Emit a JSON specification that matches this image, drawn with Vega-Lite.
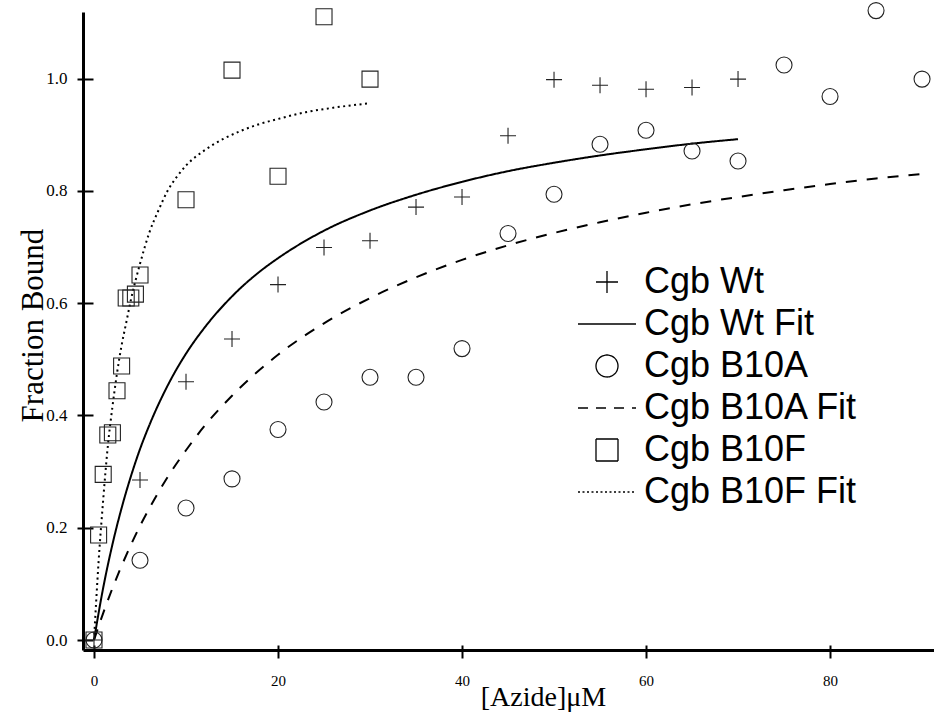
{
  "$schema": "https://vega.github.io/schema/vega-lite/v6.json",
  "autosize": "none",
  "width": 851,
  "height": 638,
  "padding": {"left": 83, "top": 12, "right": 0, "bottom": 67},
  "background": "white",
  "config": {
    "view": {"stroke": null},
    "axis": {"grid": false},
    "legend": {
      "labelFont": "Liberation Sans",
      "labelFontSize": 36,
      "labelColor": "black",
      "symbolStrokeColor": "black",
      "symbolStrokeWidth": 1.3,
      "symbolSize": 484,
      "labelOffset": 19,
      "rowPadding": 6,
      "padding": 0,
      "labelLimit": 400
    }
  },
  "datasets": {
    "pts": [
      {"series": "Cgb Wt", "x": 0, "y": 0},
      {"series": "Cgb Wt", "x": 5, "y": 0.285},
      {"series": "Cgb Wt", "x": 10, "y": 0.46},
      {"series": "Cgb Wt", "x": 15, "y": 0.536},
      {"series": "Cgb Wt", "x": 20, "y": 0.633},
      {"series": "Cgb Wt", "x": 25, "y": 0.699},
      {"series": "Cgb Wt", "x": 30, "y": 0.711},
      {"series": "Cgb Wt", "x": 35, "y": 0.771},
      {"series": "Cgb Wt", "x": 40, "y": 0.789},
      {"series": "Cgb Wt", "x": 45, "y": 0.898},
      {"series": "Cgb Wt", "x": 50, "y": 0.998},
      {"series": "Cgb Wt", "x": 55, "y": 0.988},
      {"series": "Cgb Wt", "x": 60, "y": 0.981},
      {"series": "Cgb Wt", "x": 65, "y": 0.984},
      {"series": "Cgb Wt", "x": 70, "y": 0.999},
      {"series": "Cgb B10A", "x": 0, "y": 0},
      {"series": "Cgb B10A", "x": 5, "y": 0.142},
      {"series": "Cgb B10A", "x": 10, "y": 0.235},
      {"series": "Cgb B10A", "x": 15, "y": 0.287},
      {"series": "Cgb B10A", "x": 20, "y": 0.375},
      {"series": "Cgb B10A", "x": 25, "y": 0.424},
      {"series": "Cgb B10A", "x": 30, "y": 0.468},
      {"series": "Cgb B10A", "x": 35, "y": 0.468},
      {"series": "Cgb B10A", "x": 40, "y": 0.519},
      {"series": "Cgb B10A", "x": 45, "y": 0.724},
      {"series": "Cgb B10A", "x": 50, "y": 0.794},
      {"series": "Cgb B10A", "x": 55, "y": 0.883},
      {"series": "Cgb B10A", "x": 60, "y": 0.908},
      {"series": "Cgb B10A", "x": 65, "y": 0.871},
      {"series": "Cgb B10A", "x": 70, "y": 0.853},
      {"series": "Cgb B10A", "x": 75, "y": 1.024},
      {"series": "Cgb B10A", "x": 80, "y": 0.968},
      {"series": "Cgb B10A", "x": 85, "y": 1.121},
      {"series": "Cgb B10A", "x": 90, "y": 0.999},
      {"series": "Cgb B10F", "x": 0, "y": 0},
      {"series": "Cgb B10F", "x": 0.5, "y": 0.187},
      {"series": "Cgb B10F", "x": 1, "y": 0.295},
      {"series": "Cgb B10F", "x": 1.5, "y": 0.365},
      {"series": "Cgb B10F", "x": 2, "y": 0.369},
      {"series": "Cgb B10F", "x": 2.5, "y": 0.444},
      {"series": "Cgb B10F", "x": 3, "y": 0.488},
      {"series": "Cgb B10F", "x": 3.5, "y": 0.609},
      {"series": "Cgb B10F", "x": 4, "y": 0.609},
      {"series": "Cgb B10F", "x": 4.5, "y": 0.616},
      {"series": "Cgb B10F", "x": 5, "y": 0.65},
      {"series": "Cgb B10F", "x": 10, "y": 0.784},
      {"series": "Cgb B10F", "x": 15, "y": 1.015},
      {"series": "Cgb B10F", "x": 20, "y": 0.826},
      {"series": "Cgb B10F", "x": 25, "y": 1.11},
      {"series": "Cgb B10F", "x": 30, "y": 0.999}
    ],
    "fits": [
      {"series": "Cgb Wt Fit", "x": 0, "y": 0},
      {"series": "Cgb Wt Fit", "x": 1, "y": 0.093},
      {"series": "Cgb Wt Fit", "x": 2, "y": 0.17},
      {"series": "Cgb Wt Fit", "x": 3, "y": 0.235},
      {"series": "Cgb Wt Fit", "x": 4, "y": 0.291},
      {"series": "Cgb Wt Fit", "x": 5, "y": 0.34},
      {"series": "Cgb Wt Fit", "x": 6, "y": 0.382},
      {"series": "Cgb Wt Fit", "x": 8, "y": 0.453},
      {"series": "Cgb Wt Fit", "x": 10, "y": 0.51},
      {"series": "Cgb Wt Fit", "x": 12, "y": 0.556},
      {"series": "Cgb Wt Fit", "x": 15, "y": 0.612},
      {"series": "Cgb Wt Fit", "x": 18, "y": 0.656},
      {"series": "Cgb Wt Fit", "x": 20, "y": 0.68},
      {"series": "Cgb Wt Fit", "x": 25, "y": 0.729},
      {"series": "Cgb Wt Fit", "x": 30, "y": 0.765},
      {"series": "Cgb Wt Fit", "x": 35, "y": 0.793},
      {"series": "Cgb Wt Fit", "x": 40, "y": 0.816},
      {"series": "Cgb Wt Fit", "x": 45, "y": 0.835},
      {"series": "Cgb Wt Fit", "x": 50, "y": 0.85},
      {"series": "Cgb Wt Fit", "x": 55, "y": 0.863},
      {"series": "Cgb Wt Fit", "x": 60, "y": 0.874},
      {"series": "Cgb Wt Fit", "x": 65, "y": 0.884},
      {"series": "Cgb Wt Fit", "x": 70, "y": 0.892},
      {"series": "Cgb B10A Fit", "x": 0, "y": 0},
      {"series": "Cgb B10A Fit", "x": 1, "y": 0.048},
      {"series": "Cgb B10A Fit", "x": 2, "y": 0.092},
      {"series": "Cgb B10A Fit", "x": 3, "y": 0.132},
      {"series": "Cgb B10A Fit", "x": 4, "y": 0.169},
      {"series": "Cgb B10A Fit", "x": 5, "y": 0.203},
      {"series": "Cgb B10A Fit", "x": 6, "y": 0.234},
      {"series": "Cgb B10A Fit", "x": 8, "y": 0.29},
      {"series": "Cgb B10A Fit", "x": 10, "y": 0.338},
      {"series": "Cgb B10A Fit", "x": 12, "y": 0.381},
      {"series": "Cgb B10A Fit", "x": 15, "y": 0.435},
      {"series": "Cgb B10A Fit", "x": 20, "y": 0.508},
      {"series": "Cgb B10A Fit", "x": 25, "y": 0.564},
      {"series": "Cgb B10A Fit", "x": 30, "y": 0.609},
      {"series": "Cgb B10A Fit", "x": 35, "y": 0.646},
      {"series": "Cgb B10A Fit", "x": 40, "y": 0.677},
      {"series": "Cgb B10A Fit", "x": 45, "y": 0.703},
      {"series": "Cgb B10A Fit", "x": 50, "y": 0.725},
      {"series": "Cgb B10A Fit", "x": 55, "y": 0.744},
      {"series": "Cgb B10A Fit", "x": 60, "y": 0.761},
      {"series": "Cgb B10A Fit", "x": 65, "y": 0.776},
      {"series": "Cgb B10A Fit", "x": 70, "y": 0.789},
      {"series": "Cgb B10A Fit", "x": 75, "y": 0.801},
      {"series": "Cgb B10A Fit", "x": 80, "y": 0.812},
      {"series": "Cgb B10A Fit", "x": 85, "y": 0.822},
      {"series": "Cgb B10A Fit", "x": 90, "y": 0.83},
      {"series": "Cgb B10F Fit", "x": 0, "y": 0},
      {"series": "Cgb B10F Fit", "x": 0.5, "y": 0.14},
      {"series": "Cgb B10F Fit", "x": 1, "y": 0.25},
      {"series": "Cgb B10F Fit", "x": 1.5, "y": 0.345},
      {"series": "Cgb B10F Fit", "x": 2, "y": 0.415},
      {"series": "Cgb B10F Fit", "x": 2.5, "y": 0.475},
      {"series": "Cgb B10F Fit", "x": 3, "y": 0.525},
      {"series": "Cgb B10F Fit", "x": 3.5, "y": 0.565},
      {"series": "Cgb B10F Fit", "x": 4, "y": 0.605},
      {"series": "Cgb B10F Fit", "x": 5, "y": 0.67},
      {"series": "Cgb B10F Fit", "x": 6, "y": 0.725},
      {"series": "Cgb B10F Fit", "x": 7, "y": 0.765},
      {"series": "Cgb B10F Fit", "x": 8, "y": 0.8},
      {"series": "Cgb B10F Fit", "x": 9, "y": 0.825},
      {"series": "Cgb B10F Fit", "x": 10, "y": 0.845},
      {"series": "Cgb B10F Fit", "x": 12, "y": 0.872},
      {"series": "Cgb B10F Fit", "x": 14, "y": 0.892},
      {"series": "Cgb B10F Fit", "x": 16, "y": 0.907},
      {"series": "Cgb B10F Fit", "x": 18, "y": 0.919},
      {"series": "Cgb B10F Fit", "x": 20, "y": 0.928},
      {"series": "Cgb B10F Fit", "x": 23, "y": 0.94},
      {"series": "Cgb B10F Fit", "x": 26, "y": 0.948},
      {"series": "Cgb B10F Fit", "x": 30, "y": 0.956}
    ]
  },
  "resolve": {"axis": {"x": "independent", "y": "independent"}},
  "layer": [
    {
      "data": {"name": "fits"},
      "mark": {"type": "line", "color": "black", "strokeWidth": 2, "interpolate": "monotone"},
      "encoding": {
        "x": {"field": "x", "type": "quantitative", "scale": {"domain": [-1.196, 91.3], "nice": false, "zero": false},
          "axis": {"orient": "bottom", "offset": -5, "tickSize": 5, "tickWidth": 2, "tickColor": "black", "labels": false, "domain": false, "title": null, "values": [0, 20, 40, 60, 80]}},
        "y": {"field": "y", "type": "quantitative", "scale": {"domain": [-0.0178, 1.1185], "nice": false, "zero": false},
          "axis": {"orient": "left", "offset": -10, "tickSize": 10, "tickWidth": 2, "tickColor": "black", "labels": false, "domain": false, "title": null, "values": [0, 0.2, 0.4, 0.6, 0.8, 1.0]}},
        "strokeDash": {"field": "series", "type": "nominal", "legend": null,
          "scale": {"domain": ["Cgb Wt Fit", "Cgb B10A Fit", "Cgb B10F Fit"], "range": [[1, 0], [11, 10], [2, 3.5]]}}
      }
    },
    {
      "data": {"name": "pts"},
      "mark": {"type": "point", "filled": false, "stroke": "#222", "strokeWidth": 1.1, "size": 256, "opacity": 1},
      "encoding": {
        "x": {"field": "x", "type": "quantitative",
          "axis": {"orient": "bottom", "tickSize": 8, "tickWidth": 2, "tickColor": "black", "domainColor": "black", "domainWidth": 3,
            "values": [0, 20, 40, 60, 80], "labelFont": "Liberation Serif", "labelFontSize": 15, "labelColor": "black", "labelBaseline": "alphabetic", "labelPadding": 27,
            "title": "[Azide]μM", "titleFont": "Liberation Serif", "titleFontSize": 28, "titleFontWeight": "normal", "titleColor": "black", "titleX": 460, "titleY": 55, "titleAlign": "center", "titleBaseline": "alphabetic"}},
        "y": {"field": "y", "type": "quantitative",
          "axis": {"orient": "left", "tickSize": 6, "tickWidth": 2, "tickColor": "black", "domainColor": "black", "domainWidth": 3,
            "values": [0, 0.2, 0.4, 0.6, 0.8, 1.0], "format": ".1f", "labelFont": "Liberation Serif", "labelFontSize": 17, "labelColor": "black", "labelPadding": 10,
            "title": "Fraction Bound", "titleFont": "Liberation Serif", "titleFontSize": 31, "titleFontWeight": "normal", "titleColor": "black", "titleX": -41, "titleY": 313, "titleAngle": 270, "titleAlign": "center", "titleBaseline": "alphabetic"}},
        "shape": {"field": "series", "type": "nominal",
          "scale": {"domain": ["Cgb Wt", "Cgb Wt Fit", "Cgb B10A", "Cgb B10A Fit", "Cgb B10F", "Cgb B10F Fit"],
            "range": ["M-1,0L1,0M0,-1L0,1", "stroke", "circle", "stroke", "square", "stroke"]},
          "legend": {"title": null, "orient": "none", "legendX": 506, "legendY": 252,
            "encoding": {"symbols": {
              "size": {"value": {"expr": "indexof(['Cgb Wt Fit','Cgb B10A Fit','Cgb B10F Fit'], datum.value) >= 0 ? 3364 : 484"}},
              "strokeDash": {"value": {"expr": "datum.value === 'Cgb B10A Fit' ? [10, 8] : datum.value === 'Cgb B10F Fit' ? [2, 2.5] : [1, 0]"}},
              "stroke": {"value": "black"}
            }}}}
      }
    }
  ]
}
